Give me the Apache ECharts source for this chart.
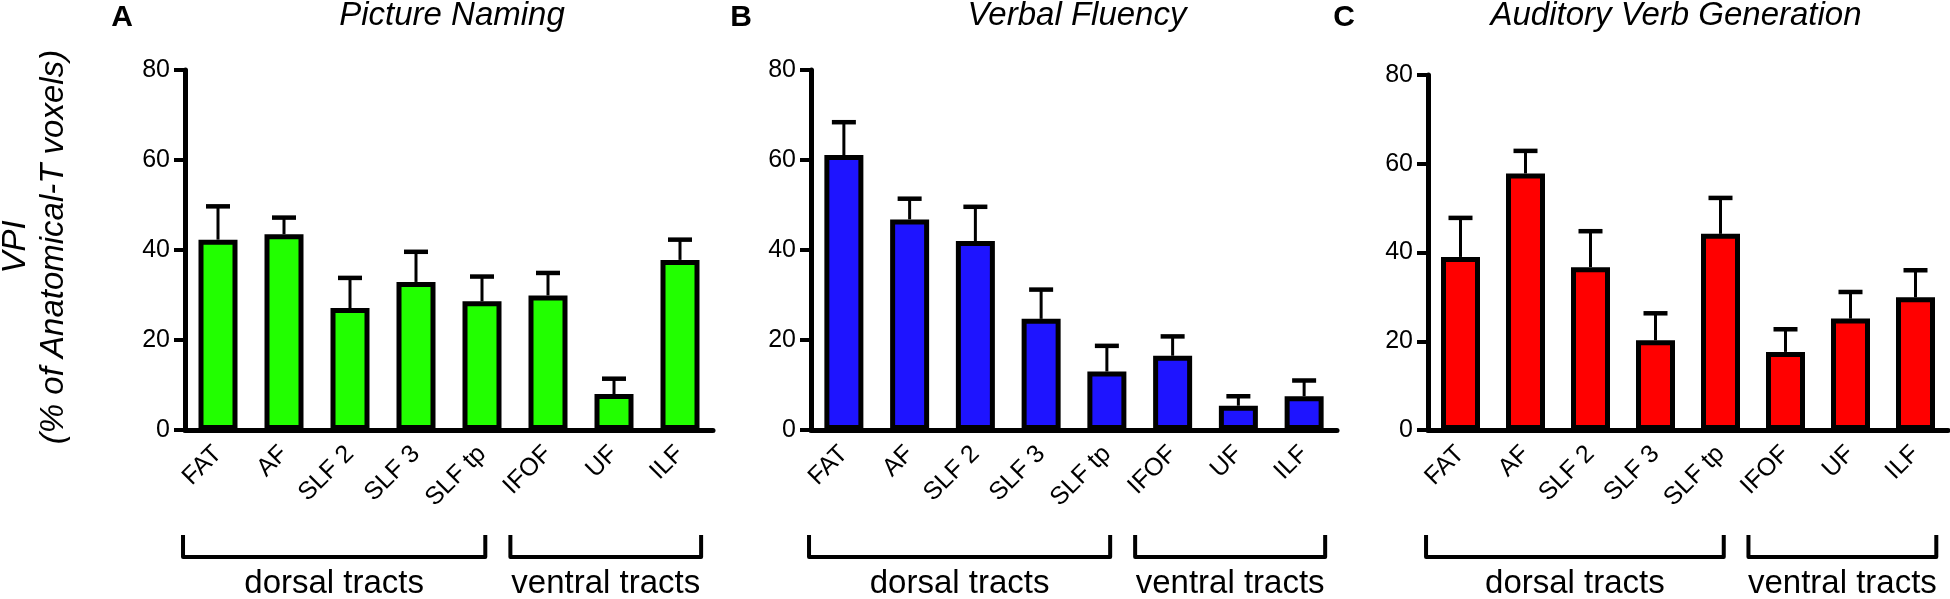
<!DOCTYPE html>
<html>
<head>
<meta charset="utf-8">
<script src="https://cdn.jsdelivr.net/npm/echarts@6/dist/echarts.min.js"></script>
<style>
  html, body { margin: 0; padding: 0; background: #fff; }
  #chart { width: 1950px; height: 599px; }
</style>
</head>
<body>
<div id="chart"></div>
<script>
var categories = ['FAT', 'AF', 'SLF 2', 'SLF 3', 'SLF tp', 'IFOF', 'UF', 'ILF'];
var dorsalTracts = ['FAT', 'AF', 'SLF 2', 'SLF 3', 'SLF tp'];
var ventralTracts = ['IFOF', 'UF', 'ILF'];
var groupNames = ['dorsal tracts', 'ventral tracts'];
var panelTitles = ['Picture Naming', 'Verbal Fluency', 'Auditory Verb Generation'];
var panelLetters = ['A', 'B', 'C'];

// VPI means and SEM (upper error bar) per tract
var namingMean = [42.3, 43.5, 27.1, 32.9, 28.6, 29.9, 8.0, 37.8];
var namingSem = [7.4, 3.7, 6.7, 6.7, 5.5, 5.0, 3.4, 4.5];
var fluencyMean = [61.1, 46.8, 42.0, 24.7, 13.0, 16.5, 5.4, 7.5];
var fluencySem = [7.3, 4.6, 7.6, 6.5, 5.7, 4.3, 2.1, 3.5];
var verbGenMean = [39.0, 57.8, 36.7, 20.2, 44.2, 17.6, 25.1, 29.9];
var verbGenSem = [8.8, 5.1, 8.1, 6.1, 8.1, 5.1, 6.0, 6.1];

var yMin = 0, yMax = 80, yStep = 20;

var FONT = "'Liberation Sans', Arial, Helvetica, sans-serif";

var panels = [
    { left: 185, width: 528, top: 70, titleX: 452, letterX: 122, color: '#22ff00', mean: namingMean, sem: namingSem },
    { left: 811, width: 526, top: 70, titleX: 1077, letterX: 741, color: '#1e14ff', mean: fluencyMean, sem: fluencySem },
    { left: 1428, width: 520, top: 75, titleX: 1676, letterX: 1344, color: '#ff0000', mean: verbGenMean, sem: verbGenSem }
];
var baseY = 430;

function renderError(params, api) {
    var x = api.value(0), m = api.value(1), e = api.value(2);
    var p0 = api.coord([x, m]);
    var p1 = api.coord([x, m + e]);
    return {
        type: 'group',
        children: [
            { type: 'line', shape: { x1: p0[0], y1: p0[1], x2: p1[0], y2: p1[1] }, style: { stroke: '#000', lineWidth: 3 } },
            { type: 'line', shape: { x1: p1[0] - 12, y1: p1[1], x2: p1[0] + 12, y2: p1[1] }, style: { stroke: '#000', lineWidth: 4.5 } }
        ]
    };
}

var grids = [], xAxes = [], yAxes = [], series = [];
panels.forEach(function (p, i) {
    grids.push({ left: p.left, width: p.width, top: p.top, height: baseY - p.top, containLabel: false, outerBoundsMode: 'none' });
    xAxes.push({
        type: 'category', gridIndex: i, data: categories,
        axisLine: { lineStyle: { color: '#000', width: 5 } },
        axisTick: { alignWithLabel: true, length: 13, lineStyle: { color: '#000', width: 4 } },
        axisLabel: { rotate: 45, margin: 20, color: '#000', fontSize: 25, fontFamily: FONT, interval: 0 },
        splitLine: { show: false }
    });
    yAxes.push({
        type: 'value', gridIndex: i, min: yMin, max: yMax, interval: yStep,
        axisLine: { show: true, lineStyle: { color: '#000', width: 5 } },
        axisTick: { show: true, length: 11, lineStyle: { color: '#000', width: 4 } },
        axisLabel: { margin: 15, color: '#000', fontSize: 25, fontFamily: FONT },
        splitLine: { show: false }
    });
    series.push({
        type: 'bar', xAxisIndex: i, yAxisIndex: i, data: p.mean, barWidth: 39,
        itemStyle: { color: p.color, borderColor: '#000', borderWidth: 5 },
        z: 3, silent: true
    });
    series.push({
        type: 'custom', xAxisIndex: i, yAxisIndex: i,
        data: categories.map(function (c, k) { return [k, p.mean[k], p.sem[k]]; }),
        encode: { x: 0, y: 1 },
        renderItem: renderError, z: 2, silent: true
    });
});

var chart = echarts.init(document.getElementById('chart'), null, { renderer: 'canvas' });
chart.setOption({
    backgroundColor: '#fff',
    animation: false,
    grid: grids,
    xAxis: xAxes,
    yAxis: yAxes,
    series: series
});

// labels, titles and bracket annotations placed from the axis scales
var graphics = [];
panels.forEach(function (p, i) {
    graphics.push({ type: 'text', x: p.letterX, y: 18, style: { text: panelLetters[i], font: 'bold 30px ' + FONT, fill: '#000', align: 'center', verticalAlign: 'middle' } });
    graphics.push({ type: 'text', x: p.titleX, y: 16, style: { text: panelTitles[i], font: 'italic 33px ' + FONT, fill: '#000', align: 'center', verticalAlign: 'middle' } });

    var px = function (c) { return chart.convertToPixel({ xAxisIndex: i }, c); };
    var band = px(categories[1]) - px(categories[0]);
    var groups = [
        [px(dorsalTracts[0]) - 0.53 * band, px(dorsalTracts[dorsalTracts.length - 1]) + 0.05 * band],
        [px(ventralTracts[0]) - 0.57 * band, px(ventralTracts[ventralTracts.length - 1]) + 0.32 * band]
    ];
    groups.forEach(function (g, k) {
        graphics.push({ type: 'polyline', shape: { points: [[g[0], 535], [g[0], 557], [g[1], 557], [g[1], 535]] }, style: { stroke: '#000', lineWidth: 4, lineJoin: 'round', fill: null } });
        graphics.push({ type: 'text', x: (g[0] + g[1]) / 2, y: 584, style: { text: groupNames[k], font: '33px ' + FONT, fill: '#000', align: 'center', verticalAlign: 'middle' } });
    });
});
graphics.push({ type: 'text', x: 16, y: 247, rotation: Math.PI / 2, style: { text: 'VPI', font: 'italic 33px ' + FONT, fill: '#000', align: 'center', verticalAlign: 'middle' } });
graphics.push({ type: 'text', x: 54, y: 247, rotation: Math.PI / 2, style: { text: '(% of Anatomical-T voxels)', font: 'italic 33px ' + FONT, fill: '#000', align: 'center', verticalAlign: 'middle' } });

chart.setOption({ graphic: graphics });
</script>
</body>
</html>
